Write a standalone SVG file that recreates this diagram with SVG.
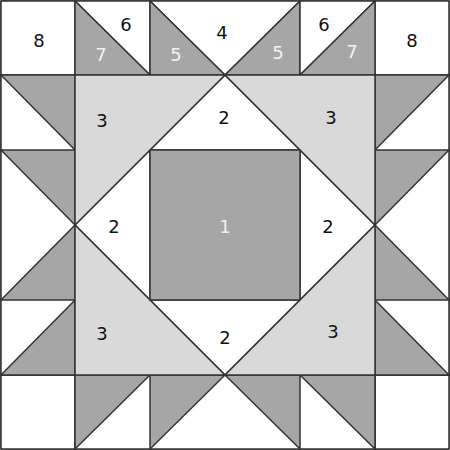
<svg xmlns="http://www.w3.org/2000/svg" width="450" height="450" viewBox="0 0 450 450">
<style>
.w{fill:#ffffff;stroke:#333;stroke-width:1.5;stroke-linejoin:round}
.d{fill:#a6a6a6;stroke:#333;stroke-width:1.5;stroke-linejoin:round}
.l{fill:#d9d9d9;stroke:#333;stroke-width:1.5;stroke-linejoin:round}
text{font-family:"DejaVu Sans",Verdana,sans-serif;font-size:18px;text-anchor:middle;dominant-baseline:central;fill:#111}
text.r{fill:#f2f2f2}
</style>
<rect x="0" y="0" width="450" height="450" fill="#ffffff"/>
<g id="background-cells">
<rect class="w" x="1" y="1" width="448" height="448"/>
</g>
<g id="corner-tl"><rect class="w" x="1" y="1" width="74" height="74"/><text x="39" y="40">8</text></g>
<g id="corner-tr"><rect class="w" x="375" y="1" width="74" height="74"/><text x="412" y="40">8</text></g>
<g id="corner-bl"><rect class="w" x="1" y="375" width="74" height="74"/></g>
<g id="corner-br"><rect class="w" x="375" y="375" width="74" height="74"/></g>
<g id="top-6-left"><polygon class="w" points="75,1 150,1 150,75"/><text x="126" y="24">6</text></g>
<g id="top-7-left"><polygon class="d" points="75,1 150,75 75,75"/><text class="r" x="101" y="54">7</text></g>
<g id="top-4"><polygon class="w" points="150,1 300,1 225,75"/><text x="222" y="32">4</text></g>
<g id="top-5-left"><polygon class="d" points="150,1 225,75 150,75"/><text class="r" x="176" y="54">5</text></g>
<g id="top-5-right"><polygon class="d" points="300,1 300,75 225,75"/><text class="r" x="278" y="52">5</text></g>
<g id="top-6-right"><polygon class="w" points="300,1 375,1 300,75"/><text x="324" y="24">6</text></g>
<g id="top-7-right"><polygon class="d" points="375,1 375,75 300,75"/><text class="r" x="352" y="51">7</text></g>
<g id="left-geese">
<rect class="w" x="1" y="75" width="74" height="300"/>
<polygon class="d" points="1,75 75,75 75,150"/>
<polygon class="d" points="1,150 75,150 75,225"/>
<polygon class="d" points="75,225 75,300 1,300"/>
<polygon class="d" points="75,300 75,375 1,375"/>
</g>
<g id="right-geese">
<rect class="w" x="375" y="75" width="74" height="300"/>
<polygon class="d" points="375,75 449,75 375,150"/>
<polygon class="d" points="375,150 449,150 375,225"/>
<polygon class="d" points="375,225 375,300 449,300"/>
<polygon class="d" points="375,300 375,375 449,375"/>
</g>
<g id="bottom-geese">
<rect class="w" x="75" y="375" width="300" height="74"/>
<polygon class="d" points="75,375 150,375 75,449"/>
<polygon class="d" points="150,375 225,375 150,449"/>
<polygon class="d" points="225,375 300,375 300,449"/>
<polygon class="d" points="300,375 375,375 375,449"/>
</g>
<g id="tri-2-top"><polygon class="w" points="225,75 300,150 150,150"/><text x="224" y="117">2</text></g>
<g id="tri-2-left"><polygon class="w" points="75,225 150,150 150,300"/><text x="114" y="226">2</text></g>
<g id="tri-2-right"><polygon class="w" points="375,225 300,150 300,300"/><text x="328" y="226">2</text></g>
<g id="tri-2-bottom"><polygon class="w" points="225,375 150,300 300,300"/><text x="225" y="337">2</text></g>
<g id="tri-3-tl"><polygon class="l" points="75,75 225,75 75,225"/><text x="102" y="120">3</text></g>
<g id="tri-3-tr"><polygon class="l" points="225,75 375,75 375,225"/><text x="331" y="117">3</text></g>
<g id="tri-3-bl"><polygon class="l" points="75,225 225,375 75,375"/><text x="102" y="333">3</text></g>
<g id="tri-3-br"><polygon class="l" points="375,225 375,375 225,375"/><text x="333" y="331">3</text></g>
<g id="center-1"><rect class="d" x="150" y="150" width="150" height="150"/><text class="r" x="225" y="226">1</text></g>
</svg>
